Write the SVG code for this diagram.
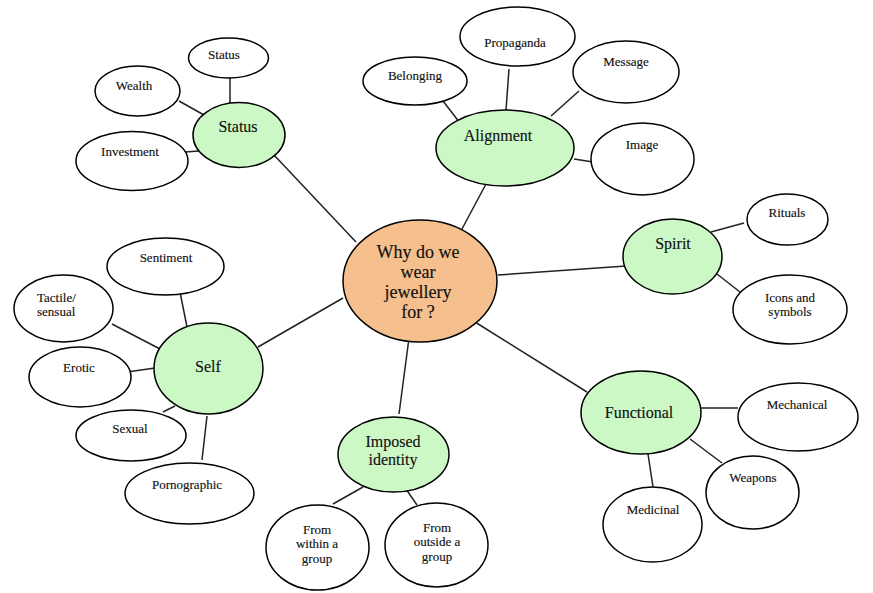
<svg xmlns="http://www.w3.org/2000/svg" width="873" height="593" viewBox="0 0 873 593">
<style>
.leaf{fill:#fff;stroke:#000;stroke-width:1.5}
.hub{fill:#ccf8c6;stroke:#000;stroke-width:1.5}
.core{fill:#f5bf8e;stroke:#000;stroke-width:1.5}
text{font-family:"Liberation Serif","Times New Roman",serif;fill:#111;text-anchor:middle;stroke:#111;stroke-width:0.15}
.s{font-size:13px}
.h{font-size:16px}
.c{font-size:18px}
#connectors line{stroke:#222;stroke-width:1.5}
</style>
<rect width="873" height="593" fill="#fff"/>
<g id="connectors">
<line x1="230" y1="78" x2="230" y2="106"/>
<line x1="179" y1="101" x2="204" y2="115"/>
<line x1="185" y1="152" x2="199" y2="151"/>
<line x1="274" y1="155" x2="356" y2="242"/>
<line x1="443" y1="101" x2="460" y2="123"/>
<line x1="509" y1="69" x2="506" y2="110"/>
<line x1="579" y1="91" x2="551" y2="116"/>
<line x1="574" y1="159" x2="593" y2="162"/>
<line x1="487" y1="182" x2="462" y2="229"/>
<line x1="498" y1="275" x2="626" y2="266"/>
<line x1="711" y1="232" x2="744" y2="223"/>
<line x1="717" y1="274" x2="740" y2="292"/>
<line x1="475" y1="322" x2="587" y2="392"/>
<line x1="701" y1="408" x2="738" y2="408"/>
<line x1="690" y1="439" x2="722" y2="463"/>
<line x1="648" y1="454" x2="653" y2="487"/>
<line x1="409" y1="338" x2="399" y2="414"/>
<line x1="333" y1="504" x2="363" y2="487"/>
<line x1="406" y1="489" x2="417" y2="505"/>
<line x1="258" y1="347" x2="343" y2="298"/>
<line x1="180" y1="292" x2="187" y2="327"/>
<line x1="112" y1="324" x2="160" y2="349"/>
<line x1="127" y1="372" x2="155" y2="368"/>
<line x1="163" y1="412" x2="175" y2="406"/>
<line x1="207" y1="416" x2="202" y2="460"/>
</g>
<g id="center"><ellipse class="core" cx="420" cy="281" rx="77" ry="61"/>
<text class="c" x="418" y="258">Why do we</text><text class="c" x="418" y="277.5">wear</text><text class="c" x="418" y="298">jewellery</text><text class="c" x="418" y="318">for ?</text></g>
<g id="status-hub"><ellipse class="hub" cx="239" cy="135" rx="46" ry="32.5"/><text class="h" x="238" y="131.5">Status</text></g>
<g id="status-leaf"><ellipse class="leaf" cx="228.5" cy="58" rx="40" ry="20"/><text class="s" x="224" y="59">Status</text></g>
<g id="wealth"><ellipse class="leaf" cx="137.5" cy="91" rx="42.5" ry="25"/><text class="s" x="134" y="89.5">Wealth</text></g>
<g id="investment"><ellipse class="leaf" cx="132" cy="161" rx="56" ry="29.5"/><text class="s" x="130" y="155.5">Investment</text></g>
<g id="alignment"><ellipse class="hub" cx="505" cy="148" rx="69" ry="38"/><text class="h" x="498" y="140.5">Alignment</text></g>
<g id="belonging"><ellipse class="leaf" cx="415" cy="81" rx="52" ry="24"/><text class="s" x="415" y="79.5">Belonging</text></g>
<g id="propaganda"><ellipse class="leaf" cx="517.5" cy="36.5" rx="57.5" ry="29.5"/><text class="s" x="515" y="46.5">Propaganda</text></g>
<g id="message"><ellipse class="leaf" cx="626" cy="72" rx="53" ry="31"/><text class="s" x="626" y="65.5">Message</text></g>
<g id="image"><ellipse class="leaf" cx="642.5" cy="159" rx="51.5" ry="36"/><text class="s" x="642" y="148.5">Image</text></g>
<g id="spirit"><ellipse class="hub" cx="672.5" cy="256.5" rx="49.5" ry="37.5"/><text class="h" x="673" y="248.5">Spirit</text></g>
<g id="rituals"><ellipse class="leaf" cx="787.5" cy="219.5" rx="40.5" ry="25.5"/><text class="s" x="787" y="216.5">Rituals</text></g>
<g id="icons"><ellipse class="leaf" cx="790" cy="309.5" rx="57" ry="34.5"/><text class="s" x="790" y="301.5">Icons and</text><text class="s" x="790" y="315.5">symbols</text></g>
<g id="functional"><ellipse class="hub" cx="641" cy="412.5" rx="60" ry="41.5"/><text class="h" x="639" y="417.5">Functional</text></g>
<g id="mechanical"><ellipse class="leaf" cx="798" cy="417" rx="60" ry="34"/><text class="s" x="797" y="408.5">Mechanical</text></g>
<g id="weapons"><ellipse class="leaf" cx="752.5" cy="492.5" rx="46.5" ry="36.5"/><text class="s" x="753" y="481.5">Weapons</text></g>
<g id="medicinal"><ellipse class="leaf" cx="652.5" cy="524.5" rx="49.5" ry="37.5"/><text class="s" x="653" y="513.5">Medicinal</text></g>
<g id="imposed"><ellipse class="hub" cx="393.5" cy="454.5" rx="55.5" ry="37.5"/><text class="h" x="393" y="446.5">Imposed</text><text class="h" x="393" y="464.5">identity</text></g>
<g id="within"><ellipse class="leaf" cx="317.5" cy="547.5" rx="51.5" ry="42.5"/><text class="s" x="317" y="533.5">From</text><text class="s" x="317" y="547.5">within a</text><text class="s" x="317" y="562.5">group</text></g>
<g id="outside"><ellipse class="leaf" cx="436.5" cy="545" rx="51.5" ry="42"/><text class="s" x="437" y="531.5">From</text><text class="s" x="437" y="545.5">outside a</text><text class="s" x="437" y="560.5">group</text></g>
<g id="self"><ellipse class="hub" cx="208.5" cy="368.5" rx="54.5" ry="45.5"/><text class="h" x="208" y="371.5">Self</text></g>
<g id="sentiment"><ellipse class="leaf" cx="165.5" cy="266.5" rx="58.5" ry="28.5"/><text class="s" x="166" y="261.5">Sentiment</text></g>
<g id="tactile"><ellipse class="leaf" cx="63.5" cy="308.5" rx="49.5" ry="33.5"/><text class="s" x="37" y="301.5" style="text-anchor:start">Tactile/</text><text class="s" x="37" y="315.5" style="text-anchor:start">sensual</text></g>
<g id="erotic"><ellipse class="leaf" cx="80" cy="377" rx="51" ry="30"/><text class="s" x="79" y="371.5">Erotic</text></g>
<g id="sexual"><ellipse class="leaf" cx="131" cy="435.5" rx="55" ry="25.5"/><text class="s" x="130" y="432.5">Sexual</text></g>
<g id="pornographic"><ellipse class="leaf" cx="189.5" cy="493.5" rx="64.5" ry="30.5"/><text class="s" x="187" y="488.5">Pornographic</text></g>
</svg>
